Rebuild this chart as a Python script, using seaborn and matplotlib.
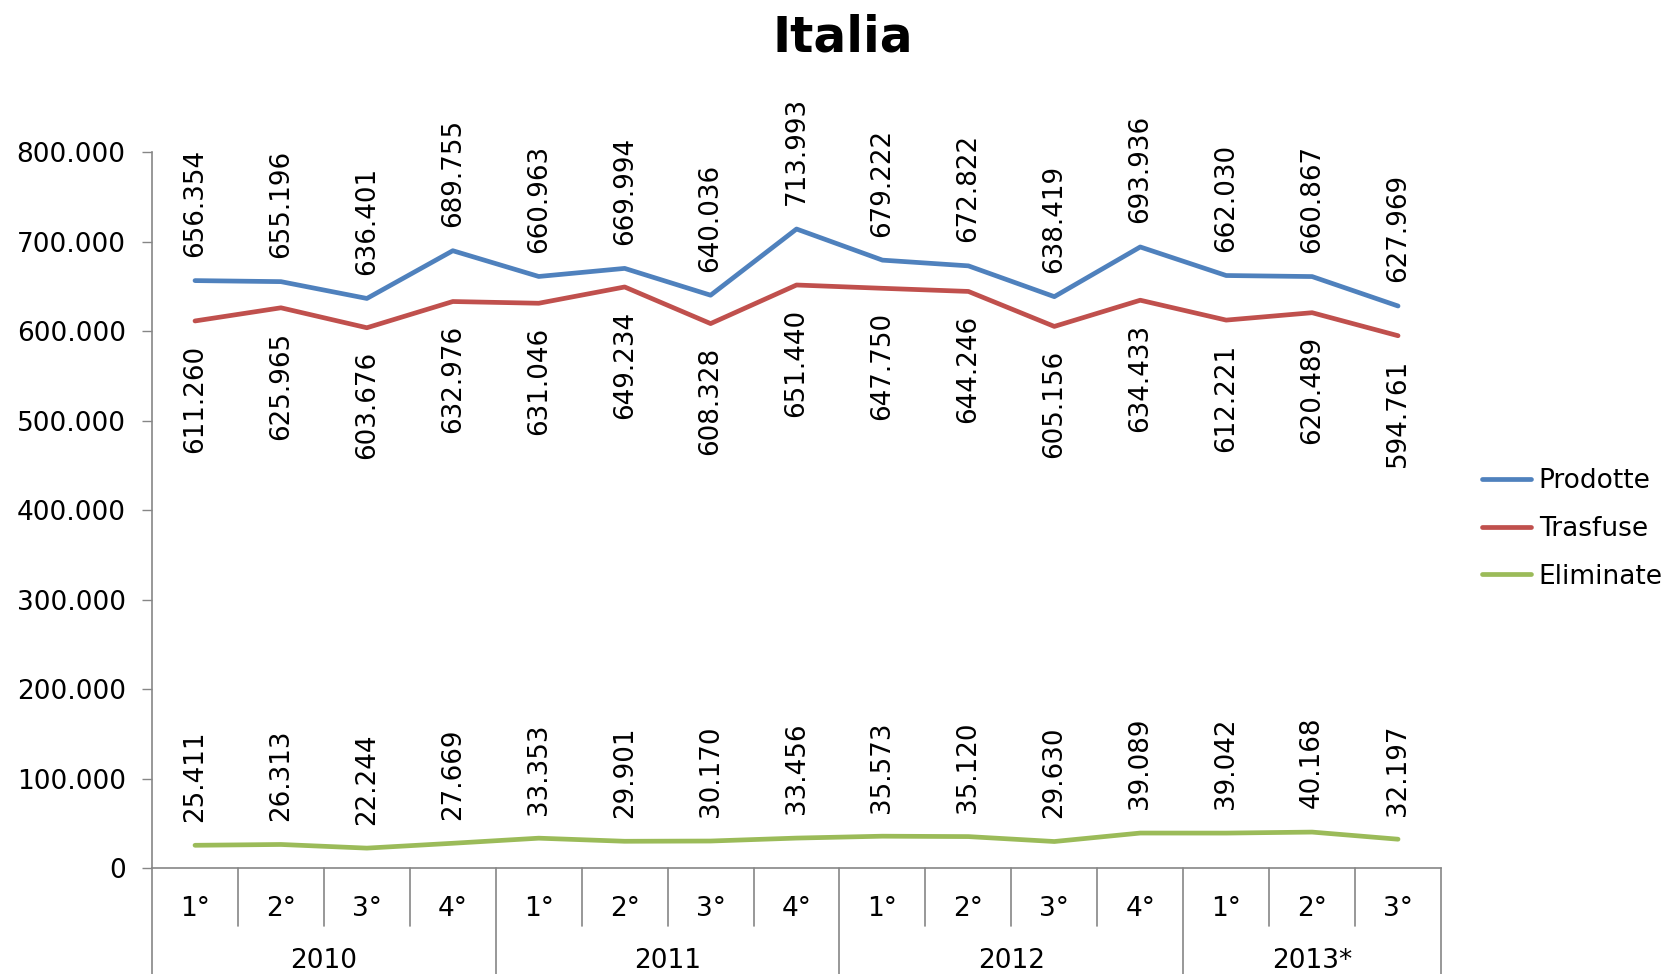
import matplotlib
matplotlib.use("Agg")
import matplotlib.pyplot as plt
import matplotlib.transforms as mtransforms
from matplotlib.ticker import FuncFormatter
import seaborn as sns
import pandas as pd

# data
quarters = ["1°", "2°", "3°", "4°", "1°", "2°", "3°", "4°",
            "1°", "2°", "3°", "4°", "1°", "2°", "3°"]
years = ["2010", "2011", "2012", "2013*"]
year_counts = [4, 4, 4, 3]

prodotte = [656354, 655196, 636401, 689755, 660963, 669994, 640036, 713993,
            679222, 672822, 638419, 693936, 662030, 660867, 627969]
trasfuse = [611260, 625965, 603676, 632976, 631046, 649234, 608328, 651440,
            647750, 644246, 605156, 634433, 612221, 620489, 594761]
eliminate = [25411, 26313, 22244, 27669, 33353, 29901, 30170, 33456,
             35573, 35120, 29630, 39089, 39042, 40168, 32197]

series = {"Prodotte": prodotte, "Trasfuse": trasfuse, "Eliminate": eliminate}
colors = {"Prodotte": "#4F81BD", "Trasfuse": "#C0504D", "Eliminate": "#9BBB59"}
label_side = {"Prodotte": "above", "Trasfuse": "below", "Eliminate": "above"}


def it_fmt(v, pos=None):
    return f"{v:,.0f}".replace(",", ".")


sns.set_style("white")
plt.rcParams["font.family"] = ["DejaVu Sans"]
plt.rcParams["text.color"] = "black"

fig = plt.figure(figsize=(16.69, 9.74), dpi=100)
ax = fig.add_axes([0.0911, 0.1088, 0.7723, 0.7351])

for name, vals in series.items():
    df = pd.DataFrame({"x": range(len(vals)), "y": vals})
    sns.lineplot(data=df, x="x", y="y", ax=ax, color=colors[name],
                 linewidth=3.4, label=name, sort=False)
    for i, v in enumerate(vals):
        if label_side[name] == "above":
            ax.annotate(it_fmt(v), (i, v), xytext=(0, 17), textcoords="offset points",
                        rotation=90, ha="center", va="bottom", fontsize=18.8)
        else:
            ax.annotate(it_fmt(v), (i, v), xytext=(0, -17), textcoords="offset points",
                        rotation=90, ha="center", va="top", fontsize=18.8)

ax.set_xlim(-0.5, len(quarters) - 0.5)
ax.set_ylim(0, 800000)
ax.set_yticks(range(0, 800001, 100000))
ax.yaxis.set_major_formatter(FuncFormatter(it_fmt))
ax.tick_params(axis="y", labelsize=19, labelcolor="black", length=7, width=1,
               color="#868686", pad=12, left=True)
ax.set_xticks([])
ax.set_xlabel("")
ax.set_ylabel("")

for s in ["top", "right"]:
    ax.spines[s].set_visible(False)
for s in ["left", "bottom"]:
    ax.spines[s].set_color("#868686")
    ax.spines[s].set_linewidth(1.2)

# two level category axis
trans = mtransforms.blended_transform_factory(ax.transData, ax.transAxes)
for i, q in enumerate(quarters):
    ax.text(i, -0.057, q, transform=trans, ha="center", va="center", fontsize=19)

bounds = [0]
for c in year_counts:
    bounds.append(bounds[-1] + c)
for b in range(len(quarters) + 1):
    bottom = -0.148 if b in bounds else -0.081
    ax.plot([b - 0.5, b - 0.5], [0, bottom], transform=trans, color="#868686",
            linewidth=1.2, clip_on=False)
for y, a, b in zip(years, bounds[:-1], bounds[1:]):
    ax.text((a + b - 1) / 2, -0.13, y, transform=trans, ha="center", va="center",
            fontsize=19)

fig.text(0.505, 0.962, "Italia", ha="center", va="center", fontsize=35,
         fontweight="bold")

ax.legend(loc="center left", bbox_to_anchor=(0.888, 0.457),
          bbox_transform=fig.transFigure, frameon=False, fontsize=19,
          handlelength=1.85, handletextpad=0.3, labelspacing=0.82, borderpad=0,
          borderaxespad=0)

fig.savefig("out.png", dpi=100)
